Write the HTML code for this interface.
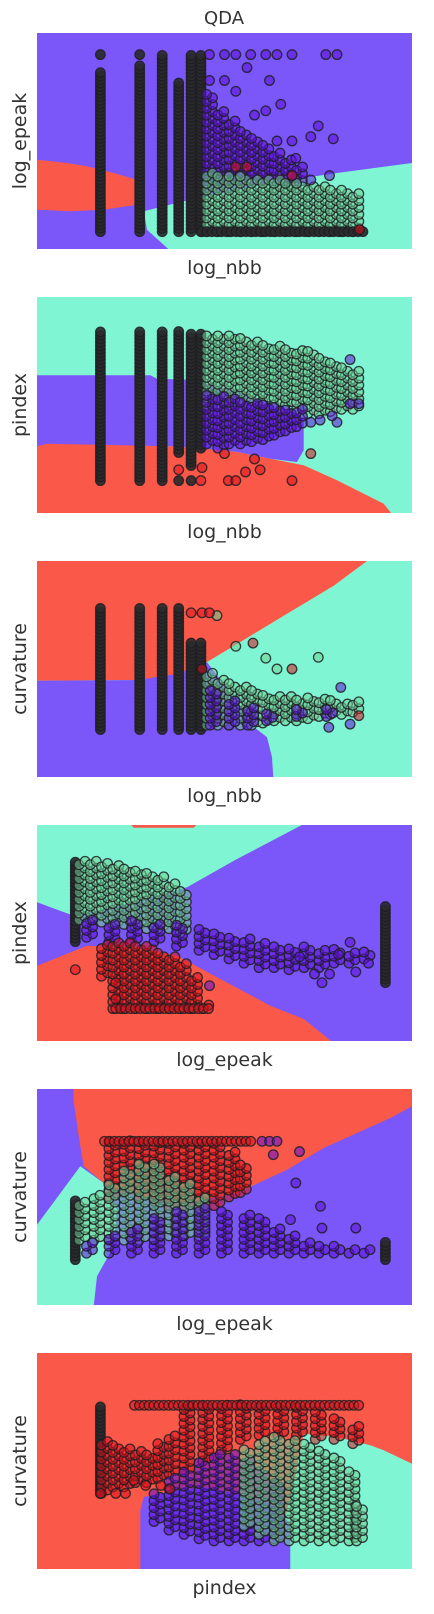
<!DOCTYPE html>
<html><head><meta charset="utf-8">
<style>
html,body{margin:0;padding:0;background:#fff;}
body{width:434px;height:1609px;overflow:hidden;font-family:"Liberation Sans",sans-serif;}
text{font-family:"DejaVu Sans","Liberation Sans",sans-serif;fill:#333;}
</style></head>
<body>
<svg id="fig" width="434" height="1609" xmlns="http://www.w3.org/2000/svg">
<text x="224" y="24" font-size="18" text-anchor="middle">QDA</text>
</svg>
<script>
// ---------- data (axis units 0-100 on each axis) ----------
// panel 1: log_nbb vs log_epeak
const p1ColX=[16.9,27.4,33.4,37.8,41.1,43.7,46,49,52,55,58,61,64,67,70,46,49,52,55,58,61,64,67,70,73,76,79,82,85];
const p1ColLo=[8,8,8,8,8,8,30,30,32,32,32,32,30,30,30,8,8,8,8,8,8,8,8,8,8,8,8,8,8];
const p1ColHi=[83,86,90,78,90,90,72,64,60,55,52,48,45,42,38,36,35,34,34,33,33,32,31,31,30,29,28,28,27];
const p1ColC=[3,3,3,3,3,3,0,0,0,0,0,0,0,0,0,1,1,1,1,1,1,1,1,1,1,1,1,1,1];
const p1PtX=[16.9,27.4,46,50,53,57,61,64,68,77,80,46,50,53,56,62,65,61,58,75,73,79,68,64,69,78,73,68,56,53,68,86];
const p1PtY=[90,90,90,90,90,90,90,90,90,90,90,78,78,73,84,78,67,64,62,57,52,51,50,50,42,34,32,34,38,38,34,9];
const p1PtC=[3,3,0,0,0,0,0,0,0,0,0,0,0,0,0,0,0,0,0,0,0,0,0,0,0,0,0,0,2,2,2,2];
const p1RowY=[8];const p1RowX0=[44];const p1RowX1=[87];const p1RowC=[3];
// panel 2: log_nbb vs pindex
const p2ColX=[16.9,27.4,33.4,37.8,41.1,43.7,46,49,52,55,58,61,64,67,70,73,76,79,82,85,46,49,52,55,58,61,64,67,70];
const p2ColLo=[15,15,15,28,22,30,50,50,50,52,52,52,50,50,48,46,46,47,48,48,32,30,32,32,33,34,36,38,40];
const p2ColHi=[84,84,84,84,84,84,82,82,82,82,80,78,78,76,76,75,72,70,68,66,55,55,54,52,52,50,50,48,48];
const p2ColC=[3,3,3,3,3,3,1,1,1,1,1,1,1,1,1,1,1,1,1,1,0,0,0,0,0,0,0,0,0];
const p2PtX=[43.7,51,53,68,55.6,59.5,50,58,73,37.8,44,73,75.5,80,78.7,83.5,85.8,83.5,37.8,41.1];
const p2PtY=[15,15,15,15,19,20,27.5,25,27.5,20,21,42,43,42,45,50.6,50.6,71,15,15];
const p2PtC=[2,2,2,2,2,2,2,2,2,2,2,0,0,0,0,0,0,0,3,3];
const p2RowY=[];const p2RowX0=[];const p2RowX1=[];const p2RowC=[];
// panel 3: log_nbb vs curvature
const p3ColX=[16.9,27.4,33.4,37.8,41.1,43.7,46,49,52,55,58,61,64,67,70,73,76,79,82,85,47,52,57,62,70,78];
const p3ColLo=[22,22,22,22,22,22,24,24,24,24,24,25,26,26,26,27,28,29,29,30,24,24,24,26,28,28];
const p3ColHi=[78,78,78,78,62,62,48,46,44,42,40,39,38,38,37,37,36,36,35,35,40,36,32,30,32,32];
const p3ColC=[3,3,3,3,3,3,1,1,1,1,1,1,1,1,1,1,1,1,1,1,0,0,0,0,0,0];
const p3PtX=[48,53,75,68,44,44,46,41.1,57.6,61,64,81,83.5,77.8,85.8];
const p3PtY=[74.7,60.5,55.4,50,50,76,76,76,62,55,50,41.5,24.5,23,28.4];
const p3PtC=[1,1,1,2,2,2,2,2,2,1,1,0,0,0,2];
const p3RowY=[];const p3RowX0=[];const p3RowX1=[];const p3RowC=[];
// panel 4: log_epeak vs pindex
const p4ColX=[10.2,92.9,12,15,18,21,24,27,30,33,36,39,14,20,26,32,38,44,48,52,56,60,64,68,72,76,80,84,88,18,21,24,27,30,33,36,39,42,45];
const p4ColLo=[46,27,56,56,55,54,54,53,52,52,52,50,48,46,46,46,44,42,40,38,36,34,34,33,34,34,36,36,38,30,15,15,15,15,15,15,15,15,15];
const p4ColHi=[84,63,84,84,83,82,80,80,78,76,73,70,56,54,56,54,54,52,50,48,48,46,45,44,44,43,43,42,42,45,46,46,45,45,42,40,36,30,18];
const p4ColC=[3,3,1,1,1,1,1,1,1,1,1,1,0,0,0,0,0,0,0,0,0,0,0,0,0,0,0,0,0,2,2,2,2,2,2,2,2,2,2];
const p4PtX=[83.5,80.4,85,78,74,70,76,88.4,10.2,21,21,46];
const p4PtY=[45.7,40,32,31,31,39,27,36,33,27,19.5,25.6];
const p4PtC=[0,0,0,0,0,0,0,0,2,2,2,0];
const p4RowY=[15];const p4RowX0=[21];const p4RowX1=[46];const p4RowC=[2];
// panel 5: log_epeak vs curvature
const p5ColX=[10.2,92.9,20,24,28,32,36,40,44,48,52,55,12,16,20,24,28,32,36,40,44,14,20,26,32,38,44,50,56,60,64,68,72,76,80,84,88];
const p5ColLo=[21,21,50,52,50,48,46,46,46,46,50,52,30,30,30,30,30,30,32,32,32,24,24,24,24,24,24,24,24,24,24,24,24,24,24,24,24];
const p5ColHi=[49,30,76,76,76,76,76,76,76,76,72,66,48,52,56,62,66,66,60,56,50,30,32,36,40,44,46,44,42,40,36,32,30,28,28,27,27];
const p5ColC=[3,3,2,2,2,2,2,2,2,2,2,2,1,1,1,1,1,1,1,1,1,0,0,0,0,0,0,0,0,0,0,0,0,0,0,0,0];
const p5PtX=[75.6,69,70,63,85,67.6,76,60,62,64];
const p5PtY=[45.7,56.5,71,69.6,35.6,39.5,35.6,75.8,75.8,75.8];
const p5PtC=[0,0,0,0,0,0,0,0,0,0];
const p5RowY=[75.8];const p5RowX0=[18];const p5RowX1=[58];const p5RowC=[2];
// panel 6: pindex vs curvature
const p6ColX=[16.9,18,21,24,27,30,33,36,40,45,50,55,60,65,70,75,80,85,32,36,40,44,48,52,56,60,64,56,60,64,68,72,76,80,84,86];
const p6ColLo=[35,35,38,38,40,40,42,44,45,50,55,60,62,62,62,60,60,58,22,18,16,14,13,13,13,13,14,20,16,13,13,13,13,13,13,13];
const p6ColHi=[76,60,58,56,55,54,58,62,76,76,76,76,76,76,76,74,70,66,35,42,46,50,54,54,50,46,40,56,60,62,60,58,56,52,45,30];
const p6ColC=[3,2,2,2,2,2,2,2,2,2,2,2,2,2,2,2,2,2,0,0,0,0,0,0,0,0,0,1,1,1,1,1,1,1,1,1];
const p6PtX=[16.9,21,23.6,25.8,29,33,35.5];
const p6PtY=[35,35,35,41,38.7,38.7,37];
const p6PtC=[2,2,2,2,2,2,2];
const p6RowY=[75.8];const p6RowX0=[26];const p6RowX1=[87];const p6RowC=[2];

// ---------- layout / styling ----------
const PW=375,PH=216,PX=37;
const COL={0:'#5c10d8',1:'#6fcf95',2:'#d8121c',3:'#2a2a2e'};
const BG={p:'#7b57f9',g:'#7ff5d3',r:'#fa5849'};
const NS='http://www.w3.org/2000/svg';
const fig=document.getElementById('fig');
const xs=v=>v/100*PW;
const ys=v=>(1-v/100)*PH;

const panels=[
 {xl:'log_nbb',yl:'log_epeak',off:10,bg:'p',data:[p1ColX,p1ColLo,p1ColHi,p1ColC,p1PtX,p1PtY,p1PtC,p1RowY,p1RowX0,p1RowX1,p1RowC],
  regs:[['r',[[0,390],[90,400],[150,410],[230,430],[300,450],[300,525],[200,540],[100,545],[0,540]]],
        ['g',[[320,545],[440,515],[700,460],[900,430],[1125,400],[1125,700],[440,700],[330,600]]]]},
 {xl:'log_nbb',yl:'pindex',off:30,bg:'g',data:[p2ColX,p2ColLo,p2ColHi,p2ColC,p2PtX,p2PtY,p2PtC,p2RowY,p2RowX0,p2RowX1,p2RowC],
  regs:[['p',[[0,265],[340,265],[360,275],[450,278],[550,300],[650,330],[780,380],[800,400],[800,490],[780,525],[700,515],[600,495],[500,485],[400,478],[30,472],[0,478]]],
        ['r',[[0,478],[30,470],[400,478],[500,485],[600,495],[700,515],[800,535],[900,580],[1040,650],[1080,700],[0,700]]]]},
 {xl:'log_nbb',yl:'curvature',off:51,bg:'g',data:[p3ColX,p3ColLo,p3ColHi,p3ColC,p3PtX,p3PtY,p3PtC,p3RowY,p3RowX0,p3RowX1,p3RowC],
  regs:[['r',[[0,40],[1005,40],[890,125],[740,215],[600,300],[500,360],[420,390],[350,405],[290,408],[0,410]]],
        ['p',[[0,410],[300,408],[420,390],[510,355],[560,420],[640,540],[690,580],[705,640],[710,720],[0,720]]]]},
 {xl:'log_epeak',yl:'pindex',off:78,bg:'p',data:[p4ColX,p4ColLo,p4ColHi,p4ColC,p4PtX,p4PtY,p4PtC,p4RowY,p4RowX0,p4RowX1,p4RowC],
  regs:[['g',[[0,70],[810,70],[600,180],[450,265],[250,320],[110,350],[0,310]]],
        ['r',[[275,70],[485,70],[470,86],[290,86]]],
        ['r',[[0,500],[150,440],[300,445],[420,470],[550,540],[700,620],[800,660],[900,740],[0,740]]]]},
 {xl:'log_epeak',yl:'curvature',off:88,bg:'p',data:[p5ColX,p5ColLo,p5ColHi,p5ColC,p5PtX,p5PtY,p5PtC,p5RowY,p5RowX0,p5RowX1,p5RowC],
  regs:[['r',[[110,80],[1125,80],[1125,140],[1060,175],[960,220],[860,265],[750,330],[600,400],[450,430],[300,410],[200,370],[140,320],[125,230],[110,125]]],
        ['g',[[130,320],[200,370],[240,450],[230,560],[180,650],[170,740],[0,740],[0,495]]]]},
 {xl:'pindex',yl:'curvature',off:108,bg:'r',data:[p6ColX,p6ColLo,p6ColHi,p6ColC,p6PtX,p6PtY,p6PtC,p6RowY,p6RowX0,p6RowX1,p6RowC],
  regs:[['g',[[800,350],[900,360],[1000,385],[1040,400],[1125,440],[1125,760],[760,760],[740,620],[770,500],[790,400]]],
        ['p',[[320,540],[420,520],[500,510],[600,530],[700,560],[760,620],[760,760],[310,760],[310,580]]]]}
];

function mk(tag,attrs,parent){const e=document.createElementNS(NS,tag);for(const k in attrs)e.setAttribute(k,attrs[k]);parent.appendChild(e);return e;}
function dot(g,px,py,c){
  const e=mk('circle',{cx:px.toFixed(1),cy:py.toFixed(1),r:4.8,fill:COL[c],'fill-opacity':c===3?0.9:0.55,stroke:'#1e1e22','stroke-opacity':0.85,'stroke-width':1.3},g);
  
  
}

panels.forEach((p,i)=>{
  const top=33+i*264;
  const sv=mk('svg',{x:PX,y:top,width:PW,height:PH,overflow:'hidden'},fig);
  
  
  const bg=mk('rect',{x:0,y:0,width:PW,height:PH,fill:BG[p.bg]},sv);
  
  
  p.regs.forEach(([c,pts])=>{
    const poly=mk('polygon',{points:pts.map(([zx,zy])=>(zx/3).toFixed(1)+','+((zy-p.off)/3).toFixed(1)).join(' '),fill:BG[c]},sv);
    
    
  });
  const g=mk('g',{},sv);
  
  
  const [cx,clo,chi,cc,px,py,pc,ry,rx0,rx1,rc]=p.data;
  for(let k=0;k<cx.length;k++){
    let j=0;
    for(let y=clo[k];y<=chi[k]+0.01;y+=1.6,j++){
      const dx=cc[k]===3?0:(j%2?3:-3);
      dot(g,xs(cx[k])+dx,ys(y),cc[k]);
    }
  }
  for(let k=0;k<ry.length;k++){
    for(let x=rx0[k];x<=rx1[k]+0.01;x+=1.3) dot(g,xs(x),ys(ry[k]),rc[k]);
  }
  for(let k=0;k<px.length;k++) dot(g,xs(px[k]),ys(py[k]),pc[k]);
  const xl=mk('text',{x:PX+PW/2,y:top+PH+25,'font-size':19,'text-anchor':'middle'},fig);
  xl.textContent=p.xl;
  
  
  const cy=top+PH/2;
  const yl=mk('text',{x:26,y:cy,'font-size':19,'text-anchor':'middle',transform:'rotate(-90 26 '+cy+')'},fig);
  yl.textContent=p.yl;
  
  
});
</script>
</body></html>
